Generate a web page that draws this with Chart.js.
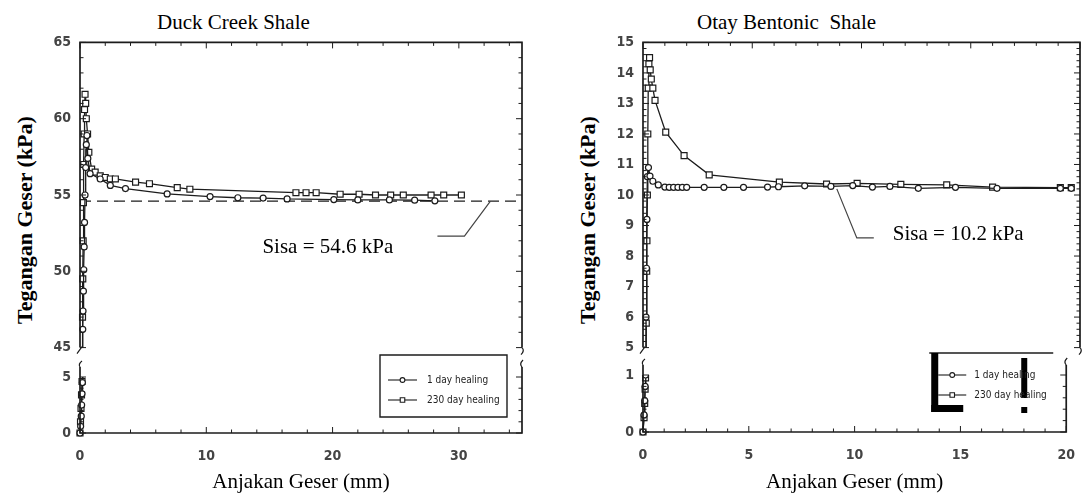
<!DOCTYPE html>
<html>
<head>
<meta charset="utf-8">
<title>Duck Creek Shale / Otay Bentonic Shale</title>
<script src="https://cdn.jsdelivr.net/npm/chart.js@4/dist/chart.umd.min.js"></script>
<style>
  html, body { margin: 0; padding: 0; background: #fff; }
  body { width: 1087px; height: 494px; position: relative; overflow: hidden; }
  canvas { position: absolute; }
  .title { position: absolute; font-family: "Liberation Serif", "Times New Roman", serif; font-size: 21px; line-height: 24px; color: #000; white-space: pre; }
  .ytitle { position: absolute; font-family: "Liberation Serif", "Times New Roman", serif; font-weight: bold; font-size: 22px; line-height: 24px; color: #000; white-space: pre; transform: translate(-50%, -50%) rotate(-90deg); }
</style>
</head>
<body>
<div class="title" style="left:157px; top:10px;">Duck Creek Shale</div>
<div class="title" style="left:697px; top:10px;">Otay Bentonic  Shale</div>
<div class="ytitle" style="left:25px; top:220px;">Tegangan Geser (kPa)</div>
<div class="ytitle" style="left:588px; top:220px;">Tegangan Geser (kPa)</div>

<canvas id="duckUpper" width="500" height="340" style="left:30px; top:25px;"></canvas>
<canvas id="duckLower" width="500" height="154" style="left:30px; top:340px;"></canvas>
<canvas id="otayUpper" width="500" height="340" style="left:590px; top:25px;"></canvas>
<canvas id="otayLower" width="500" height="154" style="left:590px; top:340px;"></canvas>

<script>
// ---- data -------------------------------------------------------------
const seriesLabels = ['1 day healing', '230 day healing'];

// Duck Creek Shale: shear displacement (mm) and shear stress (kPa)
const duckX1 = [0, 0.05, 0.1, 0.13, 0.16, 0.19, 0.22, 0.24, 0.27, 0.3, 0.33, 0.36, 0.4, 0.45, 0.5, 0.55, 0.62, 0.8, 1.6, 2.4, 3.6, 6.9, 10.3, 12.5, 14.5, 16.4, 20.1, 22.0, 24.5, 26.5, 28.1];
const duckY1 = [0, 0.6, 1.5, 2.5, 3.5, 4.5, 46.2, 47.4, 48.7, 50.1, 51.6, 53.2, 55.0, 56.8, 58.3, 58.9, 57.4, 56.4, 56.05, 55.63, 55.42, 55.07, 54.9, 54.82, 54.8, 54.74, 54.7, 54.68, 54.68, 54.66, 54.62];
const duckX230 = [0, 0.04, 0.08, 0.12, 0.16, 0.2, 0.22, 0.25, 0.27, 0.3, 0.33, 0.36, 0.4, 0.45, 0.5, 0.6, 0.7, 0.92, 1.2, 1.6, 2.0, 2.4, 2.8, 4.4, 5.5, 7.7, 8.7, 17.1, 17.9, 18.7, 20.6, 22.1, 23.4, 24.6, 25.6, 27.8, 28.8, 30.2];
const duckY230 = [0, 1.0, 2.2, 3.4, 4.6, 47.0, 49.5, 52.0, 54.5, 57.0, 59.0, 60.6, 61.6, 61.0, 60.0, 59.0, 57.8, 56.7, 56.5, 56.26, 56.15, 56.05, 56.05, 55.84, 55.74, 55.48, 55.38, 55.15, 55.15, 55.15, 55.05, 55.05, 55.0, 55.0, 55.0, 55.0, 55.0, 55.0];
const duckResidual = 54.6;

// Otay Bentonic Shale
const otayX1 = [0, 0.05, 0.08, 0.1, 0.12, 0.14, 0.16, 0.18, 0.2, 0.25, 0.32, 0.45, 0.7, 1.0, 1.2, 1.4, 1.6, 1.8, 2.0, 2.8, 3.7, 4.6, 5.7, 6.2, 7.4, 8.6, 9.6, 10.5, 11.3, 12.6, 14.3, 16.2, 19.1, 19.6];
const otayY1 = [0, 0.3, 0.55, 0.8, 1.0, 6.0, 7.6, 9.2, 10.6, 10.9, 10.62, 10.45, 10.33, 10.26, 10.25, 10.25, 10.25, 10.25, 10.25, 10.25, 10.25, 10.25, 10.26, 10.27, 10.3, 10.28, 10.31, 10.26, 10.28, 10.22, 10.25, 10.22, 10.22, 10.22];
const otayX230 = [0, 0.05, 0.08, 0.1, 0.12, 0.15, 0.17, 0.18, 0.2, 0.22, 0.24, 0.27, 0.3, 0.33, 0.38, 0.45, 0.55, 1.04, 1.88, 3.03, 6.24, 8.4, 9.8, 11.8, 13.9, 16.0, 19.1, 19.6];
const otayY230 = [0, 0.25, 0.5, 0.75, 0.95, 5.8, 7.5, 8.5, 10.0, 12.0, 13.5, 14.3, 14.5, 14.1, 13.8, 13.5, 13.1, 12.06, 11.29, 10.66, 10.42, 10.36, 10.38, 10.35, 10.33, 10.26, 10.24, 10.24];
const otayResidual = 10.2;

// tick labels
const duckXTicks = [0, 10, 20, 30];
const duckUpperYTicks = [45, 50, 55, 60, 65];
const duckLowerYTicks = [0, 5];
const otayXTicks = [0, 5, 10, 15, 20];
const otayUpperYTicks = [5, 6, 7, 8, 9, 10, 11, 12, 13, 14, 15];
const otayLowerYTicks = [0, 1];

// ---- styling ----------------------------------------------------------
const INK = '#1c1c1c';
const SERIF = '"Liberation Serif", "Times New Roman", serif';
const NARROW = '"Liberation Sans Narrow", "Arial Narrow", "DejaVu Sans Condensed", "Liberation Sans", sans-serif';
const tickFont = { family: NARROW, size: 14, weight: 'bold' };

function pts(xs, ys) { return xs.map((x, i) => ({ x: x, y: ys[i] })); }

function seriesSets(x1, y1, x230, y230, clip) {
  const common = {
    showLine: true, borderColor: INK, borderWidth: 1.3, tension: 0,
    pointBackgroundColor: '#fff', pointBorderColor: INK, pointBorderWidth: 1.2, clip: clip
  };
  return [
    Object.assign({ label: seriesLabels[0], data: pts(x1, y1), pointStyle: 'circle', pointRadius: 3 }, common),
    Object.assign({ label: seriesLabels[1], data: pts(x230, y230), pointStyle: 'rect', pointRadius: 4.2 }, common)
  ];
}

function residualSet(xMin, xMax, value, clip) {
  return {
    data: [{ x: xMin, y: value }, { x: xMax, y: value }], showLine: true,
    borderColor: INK, borderWidth: 1.4, borderDash: [11, 6], pointRadius: 0, clip: clip
  };
}

function yScale(min, max, ticks, width) {
  return {
    type: 'linear', min: min, max: max,
    afterBuildTicks: s => { s.ticks = ticks.map(v => ({ value: v })); },
    afterFit: s => { s.width = width; },
    grid: { display: false, drawTicks: false }, border: { display: false },
    ticks: { font: tickFont, color: '#444', padding: 9 }
  };
}

function xScale(min, max, ticks, shown, height, title) {
  return {
    type: 'linear', min: min, max: max, display: shown,
    afterBuildTicks: s => { s.ticks = ticks.map(v => ({ value: v })); },
    afterFit: s => { s.height = height; },
    grid: { display: false, drawTicks: false }, border: { display: false },
    ticks: { font: tickFont, color: '#444', padding: 15, maxRotation: 0 },
    title: {
      display: !!title, text: title || '', color: '#000',
      font: { family: SERIF, size: 21, lineHeight: 1.05 }, padding: { top: 0, bottom: 0 }
    }
  };
}

// frame with inward ticks and axis-break marks
const framePlugin = {
  id: 'frame',
  afterDraw(chart, args, o) {
    const { ctx, chartArea: a } = chart;
    const xs = chart.scales.x, ys = chart.scales.y;
    const l = a.left, r = a.right, t = a.top, b = a.bottom;
    ctx.save();
    ctx.strokeStyle = INK;
    ctx.lineCap = 'butt';

    // ticks along x (top edge for upper part, bottom edge for lower part)
    ctx.lineWidth = 1;
    ctx.beginPath();
    for (let i = 0; ; i++) {
      const v = xs.min + i * o.xMinor;
      if (v > xs.max + 1e-9) break;
      const major = Math.abs(v / o.xMajor - Math.round(v / o.xMajor)) < 1e-6;
      const len = major ? 6 : 3.5;
      const px = xs.getPixelForValue(v);
      if (o.part === 'upper') { ctx.moveTo(px, t); ctx.lineTo(px, t + len); }
      else { ctx.moveTo(px, b); ctx.lineTo(px, b - len); }
    }
    // ticks along y on both sides
    for (let i = 0; ; i++) {
      const v = ys.min + i * o.yMinor;
      if (v > ys.max + 1e-9) break;
      const major = Math.abs(v / o.yMajor - Math.round(v / o.yMajor)) < 1e-6;
      const len = major ? 6 : 3.5;
      const py = ys.getPixelForValue(v);
      ctx.moveTo(l, py); ctx.lineTo(l + len, py);
      ctx.moveTo(r, py); ctx.lineTo(r - len, py);
    }
    ctx.stroke();

    // frame lines
    ctx.lineWidth = 1.7;
    ctx.beginPath();
    if (o.part === 'upper') {
      ctx.moveTo(l, b); ctx.lineTo(l, t); ctx.lineTo(r, t); ctx.lineTo(r, b);
    } else {
      ctx.moveTo(l, t - o.ext); ctx.lineTo(l, b); ctx.lineTo(r, b); ctx.lineTo(r, t - o.ext);
    }
    ctx.stroke();

    // break marks
    ctx.lineWidth = 1.2;
    ctx.beginPath();
    if (o.part === 'upper') {
      ctx.moveTo(l - 3, b + 6); ctx.lineTo(l + 2, b - 1);
      ctx.moveTo(r, b); ctx.quadraticCurveTo(r + 3, b + 3, r - 1, b + 7);
    } else {
      const tt = t - o.ext;
      ctx.moveTo(l, tt); ctx.quadraticCurveTo(l - 2, tt - 3, l + 2, tt - 6);
      ctx.moveTo(r, tt); ctx.quadraticCurveTo(r - 3, tt - 3, r + 1, tt - 7);
    }
    ctx.stroke();
    ctx.restore();
  }
};

// residual stress note with leader line
const notePlugin = {
  id: 'note',
  afterDatasetsDraw(chart, args, o) {
    if (!o || !o.text) return;
    const { ctx } = chart;
    const tx = chart.scales.x.getPixelForValue(o.x);
    const ty = chart.scales.y.getPixelForValue(o.y);
    ctx.save();
    ctx.strokeStyle = '#444';
    ctx.lineWidth = 1.2;
    ctx.beginPath();
    ctx.moveTo(tx, ty);
    o.path.forEach(p => ctx.lineTo(tx + p[0], ty + p[1]));
    ctx.stroke();
    ctx.fillStyle = '#000';
    ctx.font = '21px ' + SERIF;
    ctx.textAlign = 'left';
    ctx.textBaseline = 'middle';
    ctx.fillText(o.text, tx + o.textAt[0], ty + o.textAt[1]);
    ctx.restore();
  }
};

// legend box placed at the lower right of the plot
const boxLegendPlugin = {
  id: 'boxLegend',
  afterDraw(chart, args, o) {
    if (!o || !o.show) return;
    const { ctx, chartArea: a } = chart;
    const bx = a.right + o.dx, by = a.top + o.dy;
    ctx.save();
    ctx.strokeStyle = INK;
    ctx.lineWidth = 1.4;
    ctx.beginPath();
    if (o.frame === 'box') {
      ctx.rect(bx, by, o.w, o.h);
    } else {
      ctx.moveTo(bx, by); ctx.lineTo(bx + o.w, by);
    }
    ctx.stroke();
    ctx.fillStyle = '#000';
    (o.blocks || []).forEach(k => ctx.fillRect(bx + k[0], by + k[1], k[2], k[3]));

    const sets = chart.data.datasets.filter(d => d.label);
    sets.forEach((d, i) => {
      const y = by + o.rowY[i];
      ctx.strokeStyle = INK;
      ctx.lineWidth = 1.1;
      ctx.beginPath();
      ctx.moveTo(bx + o.lineX[0], y); ctx.lineTo(bx + o.lineX[1], y);
      ctx.stroke();
      ctx.fillStyle = '#fff';
      Chart.helpers.drawPoint(ctx, { pointStyle: d.pointStyle, rotation: 0, radius: d.pointStyle === 'rect' ? 3.2 : 2.4, borderWidth: 1 },
        bx + (o.lineX[0] + o.lineX[1]) / 2, y);
      ctx.fillStyle = '#222';
      ctx.font = '10px ' + NARROW;
      ctx.textAlign = 'left';
      ctx.textBaseline = 'middle';
      ctx.fillText(d.label, bx + o.textX, y);
    });
    ctx.restore();
  }
};

function baseOptions() {
  return {
    responsive: false, animation: false, devicePixelRatio: 1,
    events: [],
    plugins: { legend: { display: false }, tooltip: { enabled: false } }
  };
}

const upperClip = { left: 6, right: 6, top: 6, bottom: 0 };
const lowerClip = { left: 6, right: 6, top: 0, bottom: 6 };

// ---- Duck Creek Shale --------------------------------------------------
new Chart(document.getElementById('duckUpper'), {
  type: 'scatter',
  data: { datasets: seriesSets(duckX1, duckY1, duckX230, duckY230, upperClip).concat([residualSet(0, 35, duckResidual, upperClip)]) },
  options: Object.assign(baseOptions(), {
    layout: { padding: { top: 10, right: 8, bottom: 12, left: 0 } },
    scales: { x: xScale(0, 35, duckXTicks, false, 0), y: yScale(45, 65, duckUpperYTicks, 50) },
    plugins: {
      legend: { display: false }, tooltip: { enabled: false },
      frame: { part: 'upper', xMinor: 2, xMajor: 10, yMinor: 1, yMajor: 5 },
      note: { x: 32.5, y: duckResidual, text: 'Sisa = ' + duckResidual + ' kPa', path: [[-26, 35], [-53, 35]], textAt: [-228, 46] }
    }
  }),
  plugins: [framePlugin, notePlugin]
});

new Chart(document.getElementById('duckLower'), {
  type: 'scatter',
  data: { datasets: seriesSets(duckX1, duckY1, duckX230, duckY230, lowerClip) },
  options: Object.assign(baseOptions(), {
    layout: { padding: { top: 37, right: 8, bottom: 0, left: 0 } },
    scales: { x: xScale(0, 35, duckXTicks, true, 61, 'Anjakan Geser (mm)'), y: yScale(0, 5, duckLowerYTicks, 50) },
    plugins: {
      legend: { display: false }, tooltip: { enabled: false },
      frame: { part: 'lower', xMinor: 2, xMajor: 10, yMinor: 1, yMajor: 5, ext: 10 },
      boxLegend: { show: true, frame: 'box', dx: -142, dy: -22, w: 127, h: 62, rowY: [25, 45], lineX: [8, 37], textX: 47 }
    }
  }),
  plugins: [framePlugin, boxLegendPlugin]
});

// ---- Otay Bentonic Shale -----------------------------------------------
new Chart(document.getElementById('otayUpper'), {
  type: 'scatter',
  data: { datasets: seriesSets(otayX1, otayY1, otayX230, otayY230, upperClip) },
  options: Object.assign(baseOptions(), {
    layout: { padding: { top: 10, right: 10, bottom: 13, left: 0 } },
    scales: { x: xScale(0, 20, otayXTicks, false, 0), y: yScale(5, 15, otayUpperYTicks, 53) },
    plugins: {
      legend: { display: false }, tooltip: { enabled: false },
      frame: { part: 'upper', xMinor: 1, xMajor: 5, yMinor: 0.2, yMajor: 1 },
      note: { x: 8.87, y: otayResidual, text: 'Sisa = ' + otayResidual + ' kPa', path: [[20, 49], [37, 49]], textAt: [56, 46] }
    }
  }),
  plugins: [framePlugin, notePlugin]
});

new Chart(document.getElementById('otayLower'), {
  type: 'scatter',
  data: { datasets: seriesSets(otayX1, otayY1, otayX230, otayY230, lowerClip) },
  options: Object.assign(baseOptions(), {
    layout: { padding: { top: 35, right: 10, bottom: 0, left: 0 } },
    scales: { x: xScale(0, 20, otayXTicks, true, 62, 'Anjakan Geser (mm)'), y: yScale(0, 1, otayLowerYTicks, 53) },
    plugins: {
      legend: { display: false }, tooltip: { enabled: false },
      frame: { part: 'lower', xMinor: 1, xMajor: 5, yMinor: 0.2, yMajor: 1, ext: 10 },
      boxLegend: {
        show: true, frame: 'top', dx: -137, dy: -22, w: 124, h: 59, rowY: [22, 42], lineX: [9, 37], textX: 45,
        blocks: [[2, 0, 7, 59], [2, 52, 32, 7], [92, 5, 6, 40], [92, 54, 6, 6]]
      }
    }
  }),
  plugins: [framePlugin, boxLegendPlugin]
});
</script>
</body>
</html>
